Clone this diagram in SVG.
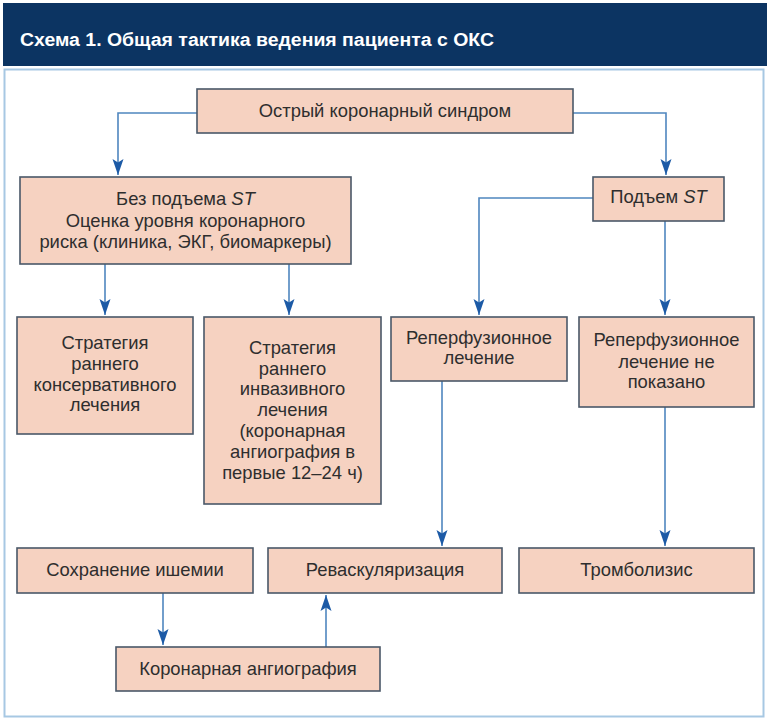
<svg xmlns="http://www.w3.org/2000/svg" width="770" height="721" viewBox="0 0 770 721">
<defs>
<style>
.box{fill:#f6d2c1;stroke:#4a5868;stroke-width:1.6}
.t{font-family:"Liberation Sans",Arial,sans-serif;font-size:18.4px;fill:#2e2e2e;text-anchor:middle}
.c{fill:none;stroke:#4f86bf;stroke-width:1.6}
.title{font-family:"Liberation Sans",Arial,sans-serif;font-size:18px;font-weight:bold;fill:#ffffff}
</style>
<marker id="ah" markerUnits="userSpaceOnUse" markerWidth="20" markerHeight="14" viewBox="-17 -7 18 14" refX="0" refY="0" orient="auto">
<path d="M0,0 L-16,-5.5 L-12.5,0 L-16,5.5 Z" fill="#1c5aa6"/>
</marker>
</defs>
<rect x="0" y="0" width="770" height="721" fill="#ffffff"/>
<rect x="3" y="3" width="764" height="63" fill="#0c3462"/>
<text class="title" x="20" y="46" textLength="474" lengthAdjust="spacingAndGlyphs">Схема 1. Общая тактика ведения пациента с ОКС</text>
<rect x="4.5" y="69.5" width="759" height="647" fill="#ffffff" stroke="#a7c8e3" stroke-width="2"/>

<g id="connectors">
<polyline class="c" points="197,113 118,113 118,175" marker-end="url(#ah)"/>
<polyline class="c" points="573,113 666,113 666,175" marker-end="url(#ah)"/>
<polyline class="c" points="105,264 105,315" marker-end="url(#ah)"/>
<polyline class="c" points="289,264 289,315" marker-end="url(#ah)"/>
<polyline class="c" points="593,198 479,198 479,315" marker-end="url(#ah)"/>
<polyline class="c" points="665,221 665,315" marker-end="url(#ah)"/>
<polyline class="c" points="442,381 442,546" marker-end="url(#ah)"/>
<polyline class="c" points="665,407 665,546" marker-end="url(#ah)"/>
<polyline class="c" points="163,593 163,645" marker-end="url(#ah)"/>
<polyline class="c" points="326,647 326,595" marker-end="url(#ah)"/>
</g>

<g id="n-oks">
<rect class="box" x="197" y="89" width="376" height="44"/>
<text class="t" x="385" y="117">Острый коронарный синдром</text>
</g>
<g id="n-bez-st">
<rect class="box" x="20" y="177" width="331" height="87"/>
<text class="t" x="185.5" y="205">Без подъема <tspan font-style="italic">ST</tspan></text>
<text class="t" x="185.5" y="227">Оценка уровня коронарного</text>
<text class="t" x="185.5" y="248">риска (клиника, ЭКГ, биомаркеры)</text>
</g>
<g id="n-st">
<rect class="box" x="593" y="177" width="131" height="44"/>
<text class="t" x="658.5" y="203">Подъем <tspan font-style="italic">ST</tspan></text>
</g>
<g id="n-cons">
<rect class="box" x="17" y="317" width="176" height="117"/>
<text class="t" x="105" y="349">Стратегия</text>
<text class="t" x="105" y="370">раннего</text>
<text class="t" x="105" y="391">консервативного</text>
<text class="t" x="105" y="411">лечения</text>
</g>
<g id="n-inv">
<rect class="box" x="204" y="317" width="177" height="187"/>
<text class="t" x="292.5" y="354">Стратегия</text>
<text class="t" x="292.5" y="375">раннего</text>
<text class="t" x="292.5" y="395">инвазивного</text>
<text class="t" x="292.5" y="416">лечения</text>
<text class="t" x="292.5" y="437">(коронарная</text>
<text class="t" x="292.5" y="458">ангиография в</text>
<text class="t" x="292.5" y="479">первые 12–24 ч)</text>
</g>
<g id="n-reperf">
<rect class="box" x="391" y="317" width="176" height="64"/>
<text class="t" x="479" y="344">Реперфузионное</text>
<text class="t" x="479" y="364">лечение</text>
</g>
<g id="n-reperf-no">
<rect class="box" x="579" y="317" width="175" height="90"/>
<text class="t" x="666.5" y="346">Реперфузионное</text>
<text class="t" x="666.5" y="368">лечение не</text>
<text class="t" x="666.5" y="388">показано</text>
</g>
<g id="n-ischemia">
<rect class="box" x="17" y="548" width="236" height="45"/>
<text class="t" x="135" y="576">Сохранение ишемии</text>
</g>
<g id="n-revasc">
<rect class="box" x="268" y="548" width="234" height="45"/>
<text class="t" x="385" y="576">Реваскуляризация</text>
</g>
<g id="n-thromb">
<rect class="box" x="519" y="548" width="235" height="45"/>
<text class="t" x="636.5" y="576">Тромболизис</text>
</g>
<g id="n-angio">
<rect class="box" x="116" y="647" width="264" height="44"/>
<text class="t" x="248" y="675">Коронарная ангиография</text>
</g>
</svg>
